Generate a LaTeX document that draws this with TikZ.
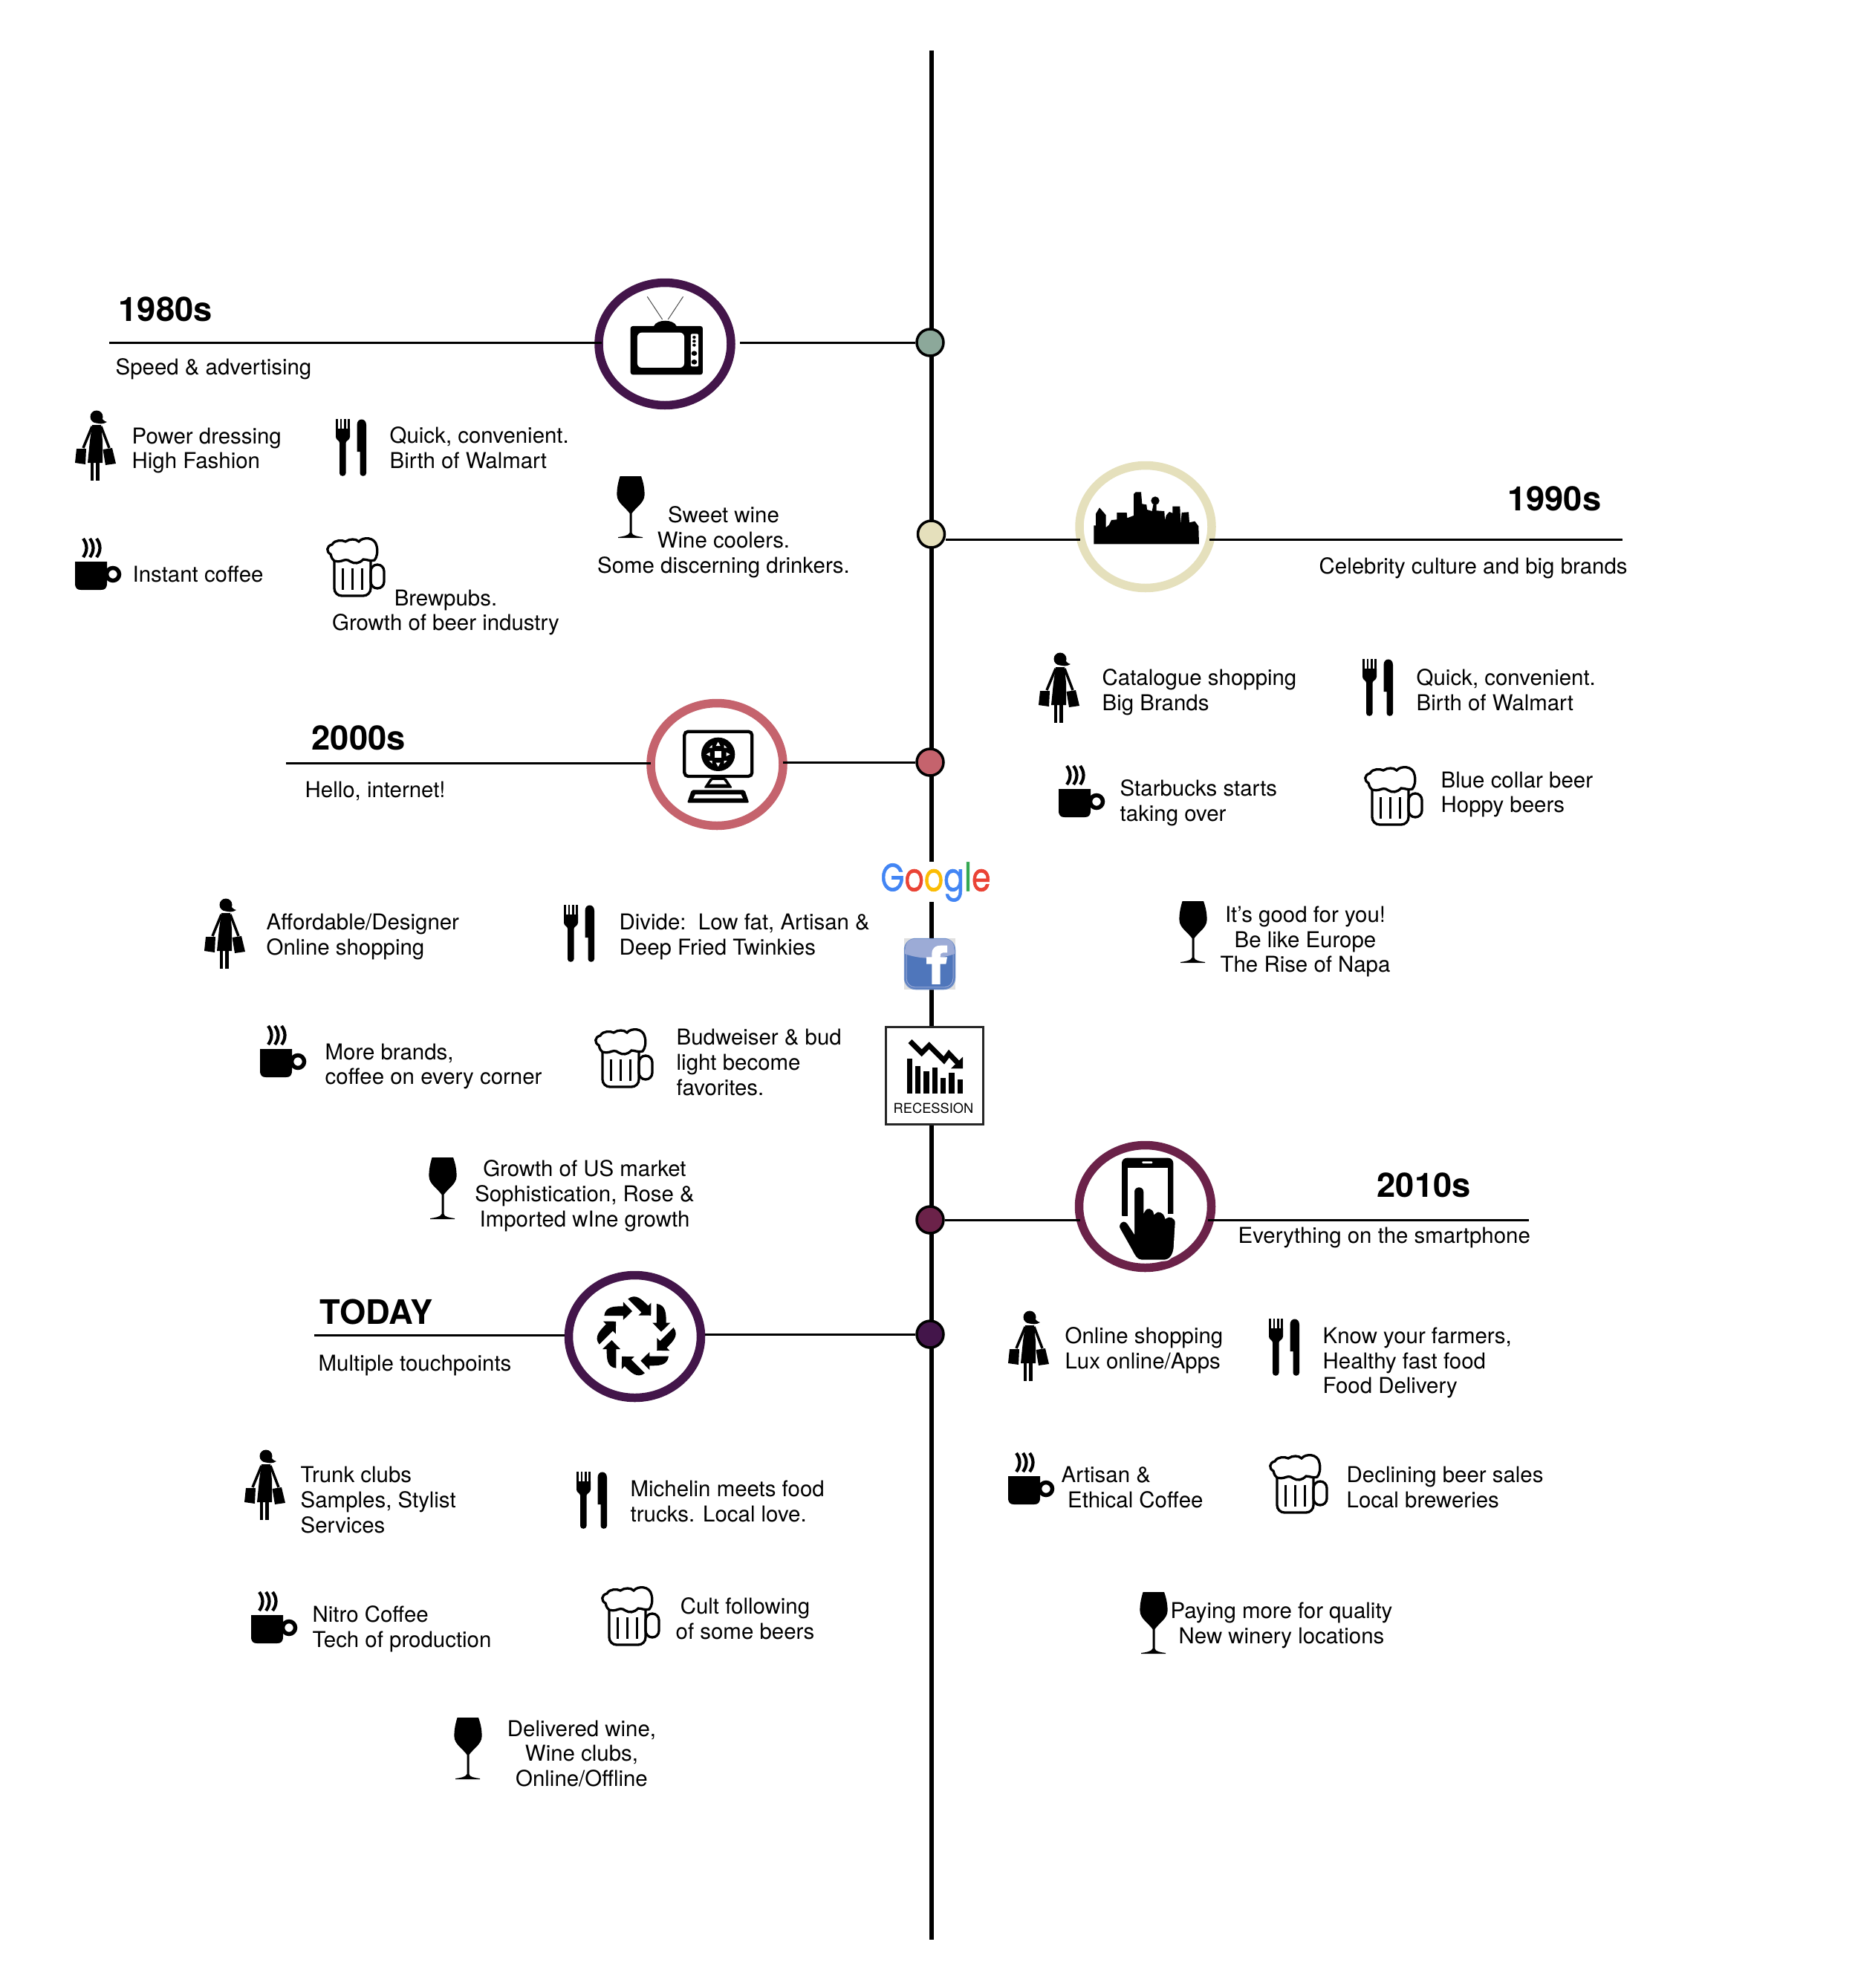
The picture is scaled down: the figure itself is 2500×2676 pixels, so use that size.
\documentclass[tikz,border=0pt]{standalone}
\usepackage{fontspec}
\usepackage{graphicx}
\setmainfont{TeX Gyre Heros}
\newfontfamily\googlefont[FakeBold=1.3]{Poppins}
\usetikzlibrary{shapes.geometric}
\definecolor{sagegreen}{HTML}{8CA89A}
\definecolor{paleolive}{HTML}{E5E0BC}
\definecolor{dustyred}{HTML}{C5636D}
\definecolor{winered}{HTML}{6B2249}
\definecolor{deepplum}{HTML}{43154A}
\definecolor{gblue}{HTML}{4285F4}
\definecolor{gred}{HTML}{EA4335}
\definecolor{gyellow}{HTML}{FBBC05}
\definecolor{ggreen}{HTML}{34A853}
\definecolor{fbblue}{HTML}{4F76BB}
\definecolor{fbpale}{HTML}{9CABD6}
\tikzset{
	spine/.style={line width=0.6mm, black},
	rule/.style={line width=0.3mm, black},
	dotmark/.style={circle, draw=black, line width=0.35mm, fill=#1, minimum size=3.6mm, inner sep=0},
	ringmark/.style={ellipse, draw=#1, line width=1.15mm, fill=white, minimum width=17.8mm, minimum height=16.5mm, inner sep=0},
	note/.style={font=\fontsize{8.37}{9.64}\selectfont, inner sep=0, anchor=west, align=left},
	notemid/.style={font=\fontsize{8.37}{9.64}\selectfont, inner sep=0, anchor=center, align=center},
	heading/.style={font=\fontsize{12.9}{15}\selectfont\bfseries, inner sep=0, anchor=west},
	shopper/.pic={
		\fill (29, 8) circle (8.5);
		\fill (32, 3) .. controls (36, 10) and (38, 14) .. (43, 15) .. controls (38, 18) and (33, 18) .. (28, 16) -- cycle;
		\fill (23, 19) -- (35, 19) -- (37, 40) -- (37, 70) -- (17, 70) -- (20, 40) -- cycle;
		\draw[line width=0.35mm] (23, 21) -- (11, 50);
		\draw[line width=0.35mm] (35, 21) -- (46, 50);
		\fill (2, 51) -- (15, 51) -- (14, 72) -- (0, 70) -- cycle;
		\fill (37.5, 52) -- (50, 50) -- (55, 71) -- (41, 73) -- cycle;
		\fill (20.5, 68) rectangle (25, 94);
		\fill (28, 68) rectangle (33, 94);
	},
	cutlery/.pic={
		\fill (0, 0) rectangle (2.6, 16);
		\fill (5.5, 0) rectangle (8.1, 16);
		\fill (11, 0) rectangle (13.6, 16);
		\fill (16.4, 0) rectangle (19, 16);
		\fill (0, 13) -- (19, 13) -- (19, 24) .. controls (19, 28) and (14, 29) .. (13.5, 32) -- (13.5, 73) .. controls (13.5, 78) and (5, 78) .. (5, 73) -- (5, 32) .. controls (5, 29) and (0, 28) .. (0, 24) -- cycle;
		\fill (28.5, 44) -- (28.5, 8) .. controls (28.5, -2) and (41, -2) .. (41, 8) -- (41, 73) .. controls (41, 78) and (32.5, 78) .. (32.5, 73) -- (32.5, 44) -- cycle;
	},
	coffee/.pic={
		\draw[line width=0.42mm] (11, 0) .. controls (17, 8) and (17, 17) .. (11, 25);
		\draw[line width=0.42mm] (20, 0) .. controls (26, 8) and (26, 17) .. (20, 25);
		\draw[line width=0.42mm] (29, 0) .. controls (35, 8) and (35, 17) .. (29, 25);
		\fill (0, 31) -- (43, 31) -- (43, 60) .. controls (43, 67) and (40, 69) .. (35, 69) -- (8, 69) .. controls (3, 69) and (0, 67) .. (0, 60) -- cycle;
		\draw[line width=0.55mm] (51, 48) circle (8.5);
	},
	beer/.pic={
		\draw[line width=0.33mm] (11, 32) .. controls (6, 28) and (7, 24) .. (6, 23) .. controls (0, 20) and (0, 12) .. (8, 10) .. controls (12, 3) and (22, 4) .. (26, 6) .. controls (32, 2) and (40, 2) .. (44, 6) .. controls (50, -1) and (66, 0) .. (68, 12) .. controls (70, 20) and (68, 28) .. (65, 31) .. controls (60, 33) and (55, 30) .. (50, 30) .. controls (44, 36) and (38, 36) .. (33, 33) .. controls (28, 29) and (24, 31) .. (21, 32) .. controls (17, 33) and (14, 33) .. (11, 32);
		\draw[line width=0.33mm, rounded corners=1mm] (11, 32) -- (11, 79) -- (60, 79) -- (60, 32);
		\draw[line width=0.33mm, rounded corners=0.9mm] (60, 37) rectangle (78, 69);
		\draw[line width=0.3mm] (22, 42) -- (22, 71);
		\draw[line width=0.3mm] (35, 42) -- (35, 71);
		\draw[line width=0.3mm] (48, 42) -- (48, 71);
	},
	wine/.pic={
		\fill (4.6, 0) -- (33, 0) .. controls (36, 8) and (38, 18) .. (37.5, 26) .. controls (37, 36) and (26, 42) .. (20.5, 50) -- (20.5, 76) .. controls (21, 80) and (28, 81) .. (35, 82) -- (35, 83) -- (2, 83) -- (2, 82) .. controls (9, 81) and (16, 80) .. (17.5, 76) -- (17.5, 50) .. controls (12, 42) and (1, 36) .. (0.5, 26) .. controls (0, 18) and (2, 8) .. (4.6, 0) -- cycle;
	},
}
\begin{document}
\begin{tikzpicture}[x=0.1mm, y=-0.1mm]
	\useasboundingbox (0, 0) rectangle (2500, 2676);
	\coordinate (spinetop) at (1253.5, 68);
	\coordinate (spineend) at (1253.5, 2611);
	\draw[spine] (spinetop) -- (spineend);

	\node[dotmark=sagegreen] (dot80) at (1252, 461) {};
	\node[dotmark=paleolive] (dot90) at (1253.5, 719) {};
	\node[dotmark=dustyred] (dot00) at (1252, 1026) {};
	\node[dotmark=winered] (dot10) at (1252, 1642) {};
	\node[dotmark=deepplum] (dotnow) at (1252, 1796) {};

	\node[ringmark=deepplum] (ring80) at (895, 463) {};
	\node[ringmark=paleolive] (ring90) at (1542, 709) {};
	\node[ringmark=dustyred] (ring00) at (965, 1029) {};
	\node[ringmark=winered] (ring10) at (1541.5, 1624) {};
	\node[ringmark=deepplum] (ringnow) at (854.5, 1799) {};

	\coordinate (end80) at (147, 461);
	\coordinate (end90) at (2184, 726);
	\coordinate (end00) at (385, 1027);
	\coordinate (end10) at (2058, 1642);
	\coordinate (endnow) at (423, 1797);
	\draw[rule, shorten >=-1mm] (end80) -- (end80 -| ring80.west);
	\draw[rule, shorten <=0.6mm] (dot80.west -| ring80.east) -- (dot80.west);
	\draw[rule, shorten >=-0.7mm] (dot90.east |- end90) -- (end90 -| ring90.west);
	\draw[rule, shorten >=-0.9mm] (end90) -- (end90 -| ring90.east);
	\draw[rule, shorten >=-0.6mm] (end00) -- (end00 -| ring00.west);
	\draw[rule, shorten <=-0.6mm] (dot00.west -| ring00.east) -- (dot00.west);
	\draw[rule, shorten >=-0.7mm] (dot10.east) -- (dot10.east -| ring10.west);
	\draw[rule, shorten >=-1mm] (end10) -- (end10 -| ring10.east);
	\draw[rule] (endnow) -- (endnow -| ringnow.west);
	\draw[rule] (dotnow.west -| ringnow.east) -- (dotnow.west);

	% tv
	\begin{scope}[shift={(750, 360)}, x=0.03827mm, y=-0.03333mm]
		\draw[line width=0.1mm, black!70] (370, 210) -- (317, 118);
		\draw[line width=0.1mm, black!70] (390, 210) -- (443, 118);
		\fill (340, 237) .. controls (350, 208) and (410, 208) .. (420, 237) -- cycle;
		\fill[rounded corners=0.3mm] (258, 237) rectangle (512, 433);
		\fill[white, rounded corners=0.6mm] (282, 263) rectangle (447, 405);
		\fill[white, rounded corners=0.2mm] (470, 268) rectangle (497, 400);
		\fill (482, 282) circle (6);
		\fill (482, 298) circle (6);
		\fill (482, 314) circle (6);
		\fill (482, 347) circle (10);
		\fill (482, 382) circle (10);
	\end{scope}

	% skyline
	\begin{scope}[shift={(1430, 610)}, scale=0.3333]
		\fill (127, 367) -- (127, 292) -- (135, 292) -- (135, 245) -- (150, 220) -- (176, 250) -- (176, 300) -- (188, 290) -- (198, 270) -- (220, 268) -- (220, 240) -- (260, 240) -- (262, 262) -- (288, 252) -- (288, 165) -- (296, 157) -- (318, 157) -- (322, 205) -- (340, 208) -- (342, 228) -- (362, 234) -- (368, 204) -- (380, 204) -- (380, 232) -- (412, 234) -- (414, 270) -- (420, 250) -- (432, 237) -- (445, 242) -- (445, 215) -- (475, 215) -- (478, 285) -- (482, 240) -- (510, 238) -- (513, 280) -- (535, 275) -- (550, 295) -- (552, 367) -- cycle;
		\fill (375, 192) circle (17);
	\end{scope}

	% computer
	\begin{scope}[shift={(860, 930)}, scale=0.3333]
		\draw[line width=0.43mm, rounded corners=0.5mm] (184, 164) rectangle (457, 345);
		\fill (320, 256) circle (68);
		\fill[white] (306, 242) rectangle (334, 270);
		\fill[white] (320, 206) -- (311, 222) -- (329, 222) -- cycle;
		\fill[white] (320, 306) -- (311, 290) -- (329, 290) -- cycle;
		\fill[white] (272, 256) -- (287, 248) -- (287, 264) -- cycle;
		\fill[white] (368, 256) -- (353, 248) -- (353, 264) -- cycle;
		\fill[white] (284, 230) -- (296, 218) -- (296, 230) -- cycle;
		\fill[white] (356, 230) -- (344, 218) -- (344, 230) -- cycle;
		\fill[white] (284, 282) -- (296, 294) -- (296, 282) -- cycle;
		\fill[white] (356, 282) -- (344, 294) -- (344, 282) -- cycle;
		\fill[rounded corners=0.2mm] (290, 350) -- (262, 392) -- (378, 392) -- (350, 350) -- cycle;
		\fill[white] (298, 360) -- (285, 377) -- (355, 377) -- (342, 360) -- cycle;
		\fill[rounded corners=0.2mm] (213, 400) -- (427, 400) -- (445, 452) -- (195, 452) -- cycle;
		\fill[white] (228, 418) -- (412, 418) -- (420, 434) -- (220, 434) -- cycle;
	\end{scope}

	% phone
	\begin{scope}[shift={(1420, 1520)}, scale=0.3333]
		\fill[rounded corners=0.7mm] (270, 365) -- (270, 116) -- (478, 116) -- (478, 365) -- cycle;
		\fill[white] (294, 155) rectangle (455, 370);
		\fill[white, rounded corners=0.1mm] (352, 130) rectangle (394, 138);
		\fill[white] (262, 350) rectangle (294, 370);
		\fill[white] (455, 342) rectangle (490, 370);
		\filldraw[draw=white, line width=0.2mm] (318, 252) .. controls (318, 225) and (361, 225) .. (361, 252) -- (361, 330) .. controls (370, 310) and (398, 315) .. (402, 340) .. controls (410, 325) and (442, 330) .. (447, 358) .. controls (460, 345) and (490, 355) .. (488, 378) -- (482, 480) .. controls (478, 510) and (465, 530) .. (440, 530) -- (350, 530) .. controls (330, 530) and (320, 510) .. (310, 490) -- (262, 405) .. controls (248, 385) and (275, 355) .. (295, 380) -- (318, 415) -- cycle;
	\end{scope}

	% turning arrows
	\begin{scope}[shift={(740, 1690)}, scale=0.3333]
		\begin{scope}[shift={(350, 325)}]
			\foreach \turn in {0, 45, ..., 315} {
				\fill[rotate=\turn] (82, -130) .. controls (120, -125) and (120, -90) .. (120, -53) -- (137, -53) -- (100, -17) -- (65, -53) -- (82, -53) -- cycle;
			}
		\end{scope}
	\end{scope}

	% google, facebook, recession
	\node[fill=white, inner sep=0, minimum width=14mm, minimum height=3.9mm] (google) at (1259.5, 1187) {\fontsize{15}{15}\selectfont\googlefont\scalebox{0.78}[1]{\textcolor{gblue}{G}\textcolor{gred}{o}\textcolor{gyellow}{o}\textcolor{gblue}{g}\textcolor{ggreen}{l}\textcolor{gred}{e}}};
	\fill[black!12] (1217, 1263) rectangle (1286, 1332);
	\node[rectangle, rounded corners=1.5mm, fill=fbblue, draw=fbblue!80!white, line width=0.15mm, minimum size=6.8mm, inner sep=0] (facebook) at (1251.5, 1297.5) {};
	\begin{scope}[shift={(1150, 1120)}, scale=0.3333]
		\fill[fbpale] (204, 492) .. controls (204, 445) and (220, 432) .. (245, 432) -- (365, 432) .. controls (390, 432) and (405, 445) .. (405, 492) .. controls (340, 515) and (270, 515) .. (204, 492) -- cycle;
		\draw[fbpale, line width=0.1mm, rounded corners=1.2mm] (210, 438) rectangle (399, 627);
		\fill[white] (313, 615) -- (313, 533) -- (291, 533) -- (291, 505) -- (313, 505) -- (313, 490) .. controls (315, 465) and (330, 458) .. (350, 458) -- (375, 458) -- (375, 487) -- (358, 487) .. controls (350, 487) and (347, 492) .. (347, 505) -- (375, 505) -- (370, 533) -- (347, 533) -- (347, 615) -- cycle;
	\end{scope}
	\node[rectangle, draw=black!85, line width=0.3mm, fill=white, minimum width=13.1mm, minimum height=13.1mm, inner sep=0] (recessionbox) at (1257.5, 1448) {};
	\begin{scope}[shift={(1150, 1120)}, scale=0.3333]
		\fill (212, 915) rectangle (235, 1056);
		\fill (247, 944) rectangle (268, 1056);
		\fill (280, 966) rectangle (302, 1056);
		\fill (314, 950) rectangle (336, 1056);
		\fill (348, 994) rectangle (370, 1056);
		\fill (382, 972) rectangle (404, 1056);
		\fill (416, 1000) rectangle (438, 1056);
		\draw[line width=0.7mm] (225, 845) -- (272, 892) -- (302, 862) -- (362, 922) -- (382, 895) -- (425, 940);
		\fill (438, 908) -- (438, 955) -- (390, 955) -- cycle;
	\end{scope}
	\node[font=\fontsize{5.2}{6}\selectfont, inner sep=0] (recessionlabel) at (1256.5, 1492) {RECESSION};

	% 1980s
	\node[heading] (head80) at (159, 416) {1980s};
	\node[note] (sub80) at (155, 496.5) {Speed \& advertising};
	\pic at (101, 553) {shopper};
	\node[note] (shop80) at (177, 606.5) {Power dressing\\High Fashion};
	\pic at (452, 564) {cutlery};
	\node[note] (food80) at (524, 603) {Quick, convenient.\\Birth of Walmart};
	\pic at (101, 725) {coffee};
	\node[note] (coffee80) at (178, 773) {Instant coffee};
	\pic at (439, 723) {beer};
	\node[notemid] (beer80) at (600, 824.5) {Brewpubs.\\Growth of beer industry};
	\pic at (830, 641) {wine};
	\node[notemid] (wine80) at (974, 729.5) {Sweet wine\\Wine coolers.\\Some discerning drinkers.};

	% 1990s
	\node[heading] (head90) at (2028.5, 671) {1990s};
	\node[note] (sub90) at (1775, 764.5) {Celebrity culture and big brands};
	\pic at (1398, 879) {shopper};
	\node[note] (shop90) at (1483, 931.5) {Catalogue shopping\\Big Brands};
	\pic at (1834, 887) {cutlery};
	\node[note] (food90) at (1906, 929) {Quick, convenient.\\Birth of Walmart};
	\pic at (1425, 1031) {coffee};
	\node[note] (coffee90) at (1507, 1080.5) {Starbucks starts\\taking over};
	\pic at (1836, 1031) {beer};
	\node[note] (beer90) at (1939, 1069.5) {Blue collar beer\\Hoppy beers};
	\pic at (1587, 1213) {wine};
	\node[notemid] (wine90) at (1757, 1267.5) {It’s good for you!\\Be like Europe\\The Rise of Napa};

	% 2000s
	\node[heading] (head00) at (419, 993) {2000s};
	\node[note] (sub00) at (410, 1065) {Hello, internet!};
	\pic at (275, 1210) {shopper};
	\node[note] (shop00) at (358, 1260.5) {Affordable/Designer\\Online shopping};
	\pic at (759, 1218) {cutlery};
	\node[note] (food00) at (833, 1260.5) {Divide:\ \ Low fat, Artisan \&\\Deep Fried Twinkies};
	\pic at (350, 1381) {coffee};
	\node[note] (coffee00) at (437, 1435.5) {More brands,\\coffee on every corner};
	\pic at (800, 1384) {beer};
	\node[note] (beer00) at (910, 1430) {Budweiser \& bud\\light become\\favorites.};
	\pic at (577, 1558) {wine};
	\node[notemid] (wine00) at (787, 1609.5) {Growth of US market\\Sophistication, Rose \&\\Imported wIne growth};

	% 2010s
	\node[heading] (head10) at (1853, 1595) {2010s};
	\node[note] (sub10) at (1666, 1665.5) {Everything on the smartphone};
	\pic at (1357, 1765) {shopper};
	\node[note] (shop10) at (1433, 1817.5) {Online shopping\\Lux online/Apps};
	\pic at (1708, 1775) {cutlery};
	\node[note] (food10) at (1780, 1834.5) {Know your farmers,\\Healthy fast food\\Food Delivery};
	\pic at (1357, 1956) {coffee};
	\node[note] (coffee10) at (1428, 2002) {Artisan \&\\\hspace*{2.4pt}Ethical Coffee};
	\pic at (1708, 1957) {beer};
	\node[note] (beer10) at (1812, 2002) {Declining beer sales\\Local breweries};
	\pic at (1534, 2143) {wine};
	\node[notemid] (wine10) at (1725, 2187.5) {Paying more for quality\\New winery locations};

	% today
	\node[heading] (headnow) at (430, 1766) {TODAY};
	\node[note] (subnow) at (428, 1837.5) {Multiple touchpoints};
	\pic at (329, 1952) {shopper};
	\node[note] (shopnow) at (404, 2019) {Trunk clubs\\Samples, Stylist\\Services};
	\pic at (776, 1981) {cutlery};
	\node[note] (foodnow) at (848, 2021) {Michelin meets food\\trucks. Local love.};
	\pic at (338, 2143) {coffee};
	\node[note] (coffeenow) at (420, 2192.5) {Nitro Coffee\\Tech of production};
	\pic at (809, 2135) {beer};
	\node[notemid] (beernow) at (1003, 2179) {Cult following\\of some beers};
	\pic at (611, 2312) {wine};
	\node[notemid] (winenow) at (783, 2360.5) {Delivered wine,\\Wine clubs,\\Online/Offline};
\end{tikzpicture}
\end{document}
